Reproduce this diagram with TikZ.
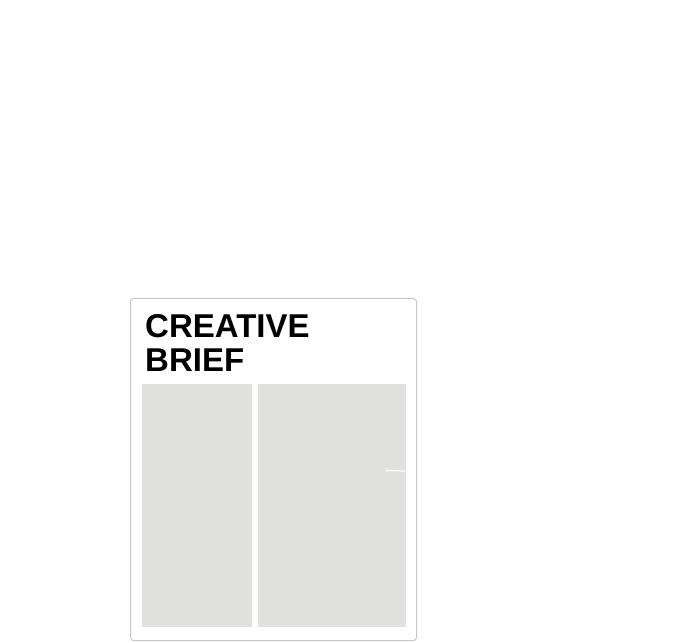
\documentclass[tikz,border=0pt]{standalone}
\usepackage{fontspec}
\setmainfont{Liberation Sans}
\definecolor{panelgray}{HTML}{E0E1DF}
\definecolor{cardborder}{HTML}{C8C8C8}
\tikzset{
  card/.style={draw=cardborder, line width=1pt, fill=white, rounded corners=3pt},
  panel/.style={fill=panelgray, draw=none},
  titletext/.style={font=\fontsize{33}{35}\selectfont\bfseries, anchor=base west, inner sep=0pt, align=left}
}
\begin{document}
\begin{tikzpicture}[x=1pt,y=1pt]
\useasboundingbox (0,0) rectangle (700,642);
\path[card] (130.5,1.5) rectangle (416.5,343.5);
\node[titletext] (t1) at (145,304.5) {CREATIVE};
\node[titletext] (t2) at (145,270) {BRIEF};
\path[panel] (142,15) rectangle (252,258);
\path[panel] (258,15) rectangle (406,258);
\draw[white, line width=1.2pt] (386,171.5) -- (405,171);
\end{tikzpicture}
\end{document}
